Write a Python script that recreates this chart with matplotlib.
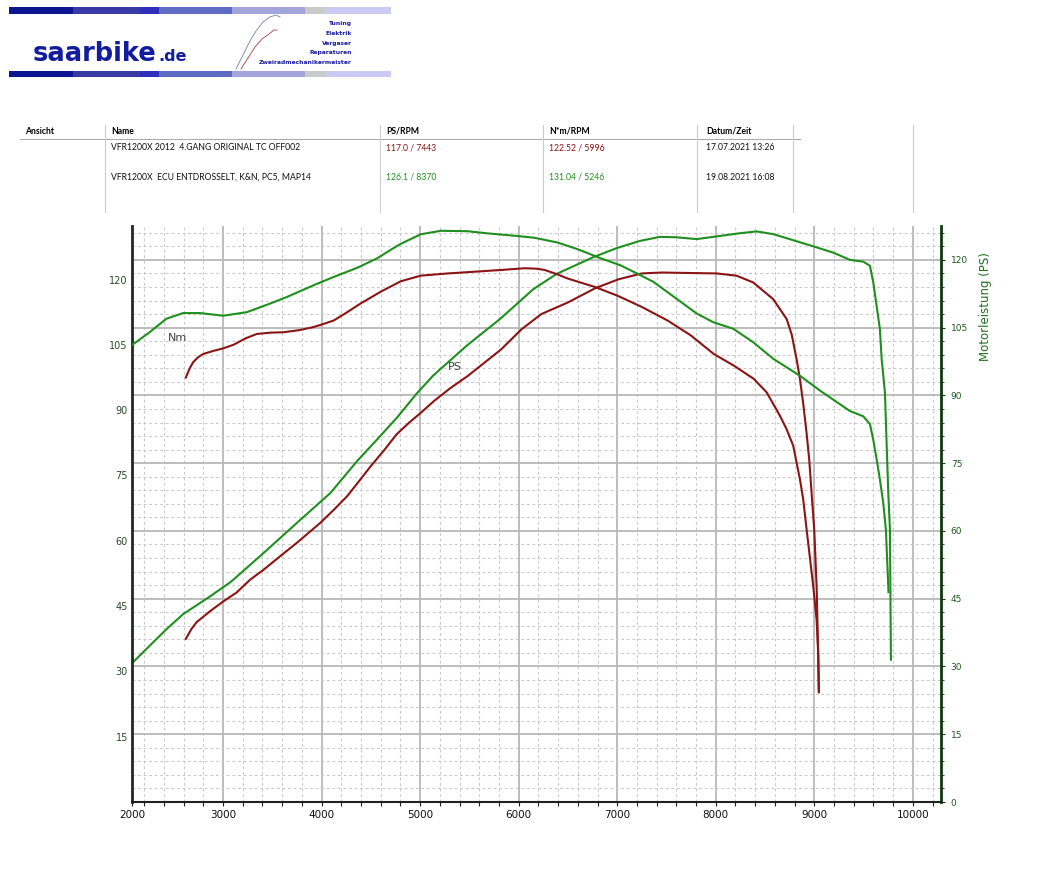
import numpy as np
import matplotlib
matplotlib.use('Agg')
import matplotlib.pyplot as plt
from matplotlib.patches import Rectangle

# ---------------- data ----------------
# original run (red): torque in Nm
rpm_nm_orig = [2623, 2660, 2697, 2750, 2799, 2900, 3003, 3105, 3230, 3343, 3480, 3615, 3780,
               3920, 4020, 4124, 4260, 4396, 4600, 4803, 5007, 5279, 5551, 5823, 6000, 6060,
               6180, 6264, 6380, 6502, 6774, 7012, 7250, 7510, 7745, 7980, 8185, 8385, 8516,
               8651, 8719, 8786, 8820, 8854, 8887, 8922, 8989, 9023, 9039, 9045]
nm_orig = [97.5, 99.5, 101.0, 102.2, 102.9, 103.6, 104.2, 105.0, 106.5, 107.5, 107.8, 107.9, 108.4,
           109.1, 109.8, 110.6, 112.5, 114.5, 117.2, 119.6, 120.9, 121.4, 121.8, 122.2, 122.5, 122.6,
           122.5, 122.2, 121.3, 120.2, 118.3, 116.2, 113.7, 110.6, 107.2, 102.9, 100.2, 97.2, 94.1,
           88.7, 85.6, 81.8, 77.9, 74.1, 69.5, 62.5, 49.5, 41.8, 34.2, 25.2]

# original run (red): power in PS
rpm_ps_orig = [2623, 2680, 2732, 2800, 2867, 3003, 3140, 3275, 3411, 3580, 3751, 3988, 4130,
               4260, 4380, 4498, 4640, 4762, 4890, 4999, 5143, 5300, 5483, 5650, 5823, 6027,
               6230, 6502, 6774, 7012, 7250, 7453, 7725, 8009, 8211, 8380, 8583, 8719, 8770,
               8820, 8854, 8887, 8922, 8948, 8972, 8999, 9023, 9039, 9046]
ps_orig = [36.1, 38.3, 39.8, 41.0, 42.2, 44.4, 46.4, 49.2, 51.4, 54.4, 57.4, 61.8, 64.8,
           67.7, 71.0, 74.3, 78.0, 81.4, 84.0, 86.0, 88.8, 91.5, 94.3, 97.2, 100.2, 104.6,
           108.0, 110.6, 113.7, 115.7, 117.0, 117.2, 117.1, 117.0, 116.5, 115.0, 111.3, 106.9, 103.5,
           98.0, 93.6, 88.2, 81.5, 75.8, 68.4, 60.3, 47.7, 33.0, 24.4]

# tuned run (green): torque in Nm
rpm_nm_tuned = [2080, 2256, 2426, 2595, 2766, 3003, 3241, 3445, 3649, 3920, 4124, 4362, 4566,
                4700, 4803, 5007, 5211, 5483, 5687, 5990, 6160, 6395, 6595, 6830, 7030, 7165,
                7365, 7565, 7806, 7974, 8177, 8380, 8583, 8854, 9057, 9361, 9496, 9564, 9597,
                9632, 9665, 9699, 9726, 9750, 9752]
nm_tuned = [105.0, 107.9, 111.0, 112.3, 112.3, 111.7, 112.5, 114.2, 116.0, 118.7, 120.6, 122.7, 124.9,
            126.8, 128.2, 130.4, 131.2, 131.1, 130.6, 130.0, 129.6, 128.5, 127.0, 124.9, 123.3, 121.8,
            119.5, 116.2, 112.2, 110.2, 108.7, 105.6, 101.8, 97.9, 94.5, 89.8, 88.6, 86.8, 83.3,
            78.7, 74.1, 68.7, 62.5, 49.5, 48.2]

# tuned run (green): power in PS
rpm_ps_tuned = [2090, 2429, 2597, 2868, 3071, 3105, 3411, 3751, 4090, 4362, 4566, 4770, 4965,
                5133, 5472, 5810, 6148, 6385, 6757, 6994, 7231, 7434, 7603, 7806, 8009, 8245,
                8414, 8583, 8854, 8989, 9193, 9362, 9497, 9564, 9598, 9665, 9683, 9716, 9733,
                9750, 9767, 9772, 9777]
ps_tuned = [31.0, 38.3, 41.6, 45.5, 48.6, 49.2, 55.1, 61.8, 68.4, 75.5, 80.3, 85.2, 90.4,
            94.4, 101.0, 106.9, 113.5, 116.9, 120.6, 122.6, 124.2, 125.1, 125.0, 124.6, 125.2, 125.9,
            126.3, 125.7, 123.9, 123.0, 121.6, 120.0, 119.6, 118.7, 115.0, 104.7, 98.0, 90.7, 79.6,
            68.5, 60.3, 45.5, 31.5]

rpm_tick_values = [2077, 3000, 4000, 5000, 6000, 7000, 8000, 9000, 10000]
rpm_tick_labels = ['2000', '3000', '4000', '5000', '6000', '7000', '8000', '9000', '10000']
nm_tick_values = [15, 30, 45, 60, 75, 90, 105, 120]
ps_tick_values = [0, 15, 30, 45, 60, 75, 90, 105, 120]

table_header = ['Ansicht', 'Name', 'PS/RPM', 'N*m/RPM', 'Datum/Zeit']
run_names = ['VFR1200X 2012  4.GANG ORIGINAL TC OFF002', 'VFR1200X  ECU ENTDROSSELT, K&N, PC5, MAP14']
run_ps = ['117.0 / 7443', '126.1 / 8370']
run_nm = ['122.52 / 5996', '131.04 / 5246']
run_dates = ['17.07.2021 13:26', '19.08.2021 16:08']
logo_lines = ['Tuning', 'Elektrik', 'Vergaser', 'Reparaturen', 'Zweiradmechanikermeister']

RED = '#8b1414'
GREEN = '#1f8f1f'
W, H = 1038, 872

fig = plt.figure(figsize=(W / 100, H / 100), dpi=100)
fig.patch.set_facecolor('white')

# ---------------- header (pixel coordinates) ----------------
hdr = fig.add_axes([0, 0, 1, 1])
hdr.set_xlim(0, W)
hdr.set_ylim(H, 0)
hdr.set_axis_off()
hdr.patch.set_visible(False)
hdr.set_zorder(0)

bar_edges = [9, 73, 140, 159, 232, 305, 325, 391]
bar_colors = ['#0c1690', '#3a3aa4', '#2f2fbc', '#5e6cc4', '#a2a4da', '#cacaca', '#cacaf2']
for (x0, x1, c) in zip(bar_edges[:-1], bar_edges[1:], bar_colors):
    for (y0, y1) in [(7, 14), (71, 77)]:
        hdr.add_patch(Rectangle((x0, y0), x1 - x0, y1 - y0, color=c, lw=0))

hdr.text(33, 61, 'saarbike', fontsize=18.5, fontweight='bold', color='#121c9c',
         ha='left', va='baseline', family='DejaVu Sans')
hdr.text(158, 61, '.de', fontsize=11.5, fontweight='bold', color='#121c9c',
         ha='left', va='baseline', family='DejaVu Sans')
for i, t in enumerate(logo_lines):
    hdr.text(352, 24 + i * 9.6, t, fontsize=4.3, fontweight='bold', color='#1a1aa0',
             ha='right', va='center', family='DejaVu Sans')
# little sketch in logo
hdr.plot([236, 243, 250, 256, 263, 270, 276, 280], [69, 55, 41, 31, 22, 17, 15, 17],
         color='#7080a8', lw=0.6)
hdr.plot([241, 248, 255, 262, 269, 274, 277], [69, 58, 47, 39, 34, 30, 30],
         color='#a04040', lw=0.6)

# table
col_x = [25, 111, 386, 549, 706]
for x, t in zip(col_x, table_header):
    hdr.text(x, 131, t, fontsize=6.2, fontweight='bold', family='Lato', ha='left', va='center',
             color='black')
hdr.plot([20, 800], [139.5, 139.5], color='#a8a8a8', lw=0.7)
for x in [105, 380, 543, 697, 793, 913]:
    hdr.plot([x, x], [125, 212], color='#cccccc', lw=0.8)
row_y = [148, 177]
for i in range(2):
    c = RED if i == 0 else GREEN
    hdr.text(111, row_y[i], run_names[i], fontsize=6.2, family='Lato', ha='left', va='center', color='#111111')
    hdr.text(386, row_y[i], run_ps[i], fontsize=6.2, family='Lato', ha='left', va='center', color=c)
    hdr.text(549, row_y[i], run_nm[i], fontsize=6.2, family='Lato', ha='left', va='center', color=c)
    hdr.text(706, row_y[i], run_dates[i], fontsize=6.2, family='Lato', ha='left', va='center', color='#111111')

# ---------------- chart ----------------
rect = [132 / W, 1 - 802 / H, (941 - 132) / W, (802 - 226) / H]
ax1 = fig.add_axes(rect)
ax2 = ax1.twinx()
ax1.set_zorder(3)
ax2.set_zorder(2)
ax1.patch.set_visible(False)

ax1.set_xlim(2077, 10285)
ax1.set_ylim(0, 132.3)
ax2.set_ylim(0, 127.5)

# grid (on the PS axis)
for v in np.arange(2200, 10201, 200):
    if v % 1000 == 0:
        ax2.axvline(v, color='#b8b8b8', lw=1.3, zorder=0)
    else:
        ax2.axvline(v, color='#c9c9c9', lw=0.8, ls=(0, (2.5, 2.5)), zorder=0)
for v in np.arange(3, 127, 3):
    if v % 15 == 0:
        ax2.axhline(v, color='#b8b8b8', lw=1.3, zorder=0)
    else:
        ax2.axhline(v, color='#c9c9c9', lw=0.8, ls=(0, (2.5, 2.5)), zorder=0)

# curves
ax2.plot(rpm_ps_orig, ps_orig, color=RED, lw=1.5, zorder=3)
ax2.plot(rpm_ps_tuned, ps_tuned, color=GREEN, lw=1.5, zorder=3)
ax1.plot(rpm_nm_orig, nm_orig, color=RED, lw=1.5, zorder=3)
ax1.plot(rpm_nm_tuned, nm_tuned, color=GREEN, lw=1.5, zorder=3)

ax1.text(2543, 106.6, 'Nm', fontsize=8, color='#404040', ha='center', va='center')
ax2.text(5354, 96.2, 'PS', fontsize=8, color='#404040', ha='center', va='center')

# spines
for s in ['top', 'right']:
    ax1.spines[s].set_visible(False)
for s in ['top', 'left', 'bottom']:
    ax2.spines[s].set_visible(False)
ax1.spines['left'].set_color('#1c2a1c')
ax1.spines['left'].set_linewidth(2.0)
ax1.spines['bottom'].set_color('#202020')
ax1.spines['bottom'].set_linewidth(1.5)
ax2.spines['right'].set_color('#0e3a0e')
ax2.spines['right'].set_linewidth(2.0)

# ticks
ax1.set_xticks(rpm_tick_values)
ax1.set_xticklabels(rpm_tick_labels)
ax1.set_xticks([v for v in range(2200, 10201, 200) if v % 1000 != 0], minor=True)
ax1.tick_params(axis='x', which='both', direction='out', length=3, width=0.8, color='#202020',
                labelsize=7.5, pad=3, labelcolor='#111111')
ax1.set_yticks(nm_tick_values)
ax1.set_yticklabels([str(v) for v in nm_tick_values])
ax1.tick_params(axis='y', which='both', length=0, labelsize=7, pad=3, labelcolor='#2a4a2a')
ax2.set_yticks(ps_tick_values)
ax2.set_yticklabels([str(v) for v in ps_tick_values])
ax2.set_yticks([v for v in range(3, 127, 3) if v % 15 != 0], minor=True)
ax2.tick_params(axis='y', which='major', direction='out', length=3, width=0.8, color='#0e3a0e',
                labelsize=6.5, pad=4, labelcolor='#1d5a1d')
ax2.tick_params(axis='y', which='minor', direction='out', length=2, width=0.6, color='#0e3a0e')

fig.text(985 / W, 1 - 307 / H, 'Motorleistung (PS)', rotation=90, ha='center', va='center',
         fontsize=8.5, color='#1f6f1f')

fig.savefig('out.png', dpi=100, facecolor='white')
